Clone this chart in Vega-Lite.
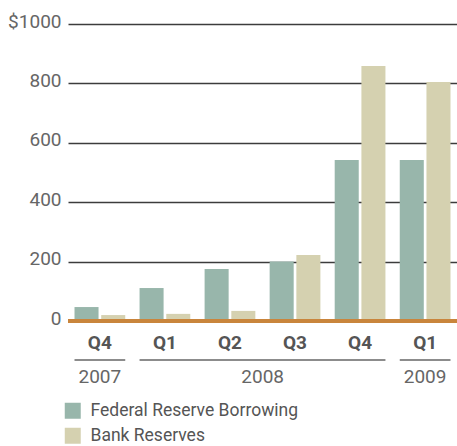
{
  "$schema": "https://vega.github.io/schema/vega-lite/v6.json",
  "width": 389,
  "height": 297,
  "autosize": {"type": "none"},
  "padding": {"left": 68, "top": 24, "right": 0, "bottom": 125},
  "background": "white",
  "config": {"view": {"stroke": null}, "font": "Roboto"},
  "datasets": {
    "bars": [
      {"quarter": "2007 Q4", "series": "Federal Reserve Borrowing", "value": 47},
      {"quarter": "2007 Q4", "series": "Bank Reserves", "value": 20},
      {"quarter": "2008 Q1", "series": "Federal Reserve Borrowing", "value": 111},
      {"quarter": "2008 Q1", "series": "Bank Reserves", "value": 24},
      {"quarter": "2008 Q2", "series": "Federal Reserve Borrowing", "value": 175},
      {"quarter": "2008 Q2", "series": "Bank Reserves", "value": 34},
      {"quarter": "2008 Q3", "series": "Federal Reserve Borrowing", "value": 200},
      {"quarter": "2008 Q3", "series": "Bank Reserves", "value": 222},
      {"quarter": "2008 Q4", "series": "Federal Reserve Borrowing", "value": 542},
      {"quarter": "2008 Q4", "series": "Bank Reserves", "value": 859},
      {"quarter": "2009 Q1", "series": "Federal Reserve Borrowing", "value": 542},
      {"quarter": "2009 Q1", "series": "Bank Reserves", "value": 805}
    ],
    "years": [
      {"year": "2007", "start": "2007 Q4", "end": "2007 Q4", "mid": "2007 Q4"},
      {"year": "2008", "start": "2008 Q1", "end": "2008 Q4", "mid": "2008 Q3"},
      {"year": "2009", "start": "2009 Q1", "end": "2009 Q1", "mid": "2009 Q1"}
    ]
  },
  "layer": [
    {
      "data": {"name": "bars"},
      "mark": {"type": "bar"},
      "encoding": {
        "x": {
          "field": "quarter", "type": "nominal", "sort": null,
          "scale": {"domain": ["2007 Q4", "2008 Q1", "2008 Q2", "2008 Q3", "2008 Q4", "2009 Q1"], "paddingInner": 0.22, "paddingOuter": 0.1},
          "axis": {
            "title": null, "domain": false, "ticks": false,
            "labelExpr": "split(datum.label, ' ')[1]",
            "labelFont": "Roboto", "labelFontSize": 19, "labelFontWeight": "bold", "labelColor": "#555555",
            "labelAngle": 0, "labelBaseline": "alphabetic", "labelPadding": 27
          }
        },
        "xOffset": {
          "field": "series", "type": "nominal",
          "scale": {"domain": ["Federal Reserve Borrowing", "Bank Reserves"], "paddingInner": 0.1, "paddingOuter": 0}
        },
        "y": {
          "field": "value", "type": "quantitative",
          "scale": {"domain": [0, 1000], "nice": false},
          "axis": {
            "title": null, "domain": false, "ticks": false,
            "values": [0, 200, 400, 600, 800, 1000],
            "format": "d",
            "labelExpr": "datum.value == 1000 ? '$1000' : datum.label",
            "labelFont": "Roboto", "labelFontSize": 19, "labelColor": "#666666",
            "labelPadding": 7, "labelBaseline": "alphabetic", "labelOffset": 3,
            "grid": true, "gridColor": "#3c3c3c", "gridWidth": 1.5
          }
        },
        "color": {
          "field": "series", "type": "nominal",
          "scale": {"domain": ["Federal Reserve Borrowing", "Bank Reserves"], "range": ["#98b6ab", "#d5d1b0"]},
          "legend": {
            "title": null, "orient": "none", "legendX": -4, "legendY": 378, "padding": 0,
            "symbolType": "square", "symbolSize": 256, "symbolStrokeWidth": 0, "symbolOpacity": 1,
            "labelFont": "Roboto", "labelFontSize": 17.5, "labelColor": "#555555", "labelOffset": 9, "labelLimit": 400,
            "rowPadding": 6, "direction": "vertical"
          }
        }
      }
    },
    {
      "data": {"values": [{"zero": 0}]},
      "mark": {"type": "rule", "color": "#c9853c", "strokeWidth": 4},
      "encoding": {"y": {"field": "zero", "type": "quantitative"}}
    },
    {
      "data": {"name": "years"},
      "mark": {"type": "rule", "color": "#8c8c8c", "strokeWidth": 2},
      "encoding": {
        "x": {"field": "start", "type": "nominal", "bandPosition": 0,
              "scale": {"domain": ["2007 Q4", "2008 Q1", "2008 Q2", "2008 Q3", "2008 Q4", "2009 Q1"]}},
        "x2": {"field": "end", "bandPosition": 1},
        "y": {"value": 336}
      }
    },
    {
      "data": {"name": "years"},
      "transform": [{"filter": "datum.year != '2008'"}],
      "mark": {"type": "text", "font": "Roboto", "fontSize": 19, "color": "#666666", "align": "center", "baseline": "alphabetic"},
      "encoding": {
        "x": {"field": "mid", "type": "nominal", "bandPosition": 0.5,
              "scale": {"domain": ["2007 Q4", "2008 Q1", "2008 Q2", "2008 Q3", "2008 Q4", "2009 Q1"]}},
        "y": {"value": 359},
        "text": {"field": "year"}
      }
    },
    {
      "data": {"name": "years"},
      "transform": [{"filter": "datum.year == '2008'"}],
      "mark": {"type": "text", "font": "Roboto", "fontSize": 19, "color": "#666666", "align": "center", "baseline": "alphabetic", "dx": -7},
      "encoding": {
        "x": {"field": "mid", "type": "nominal", "bandPosition": 0,
              "scale": {"domain": ["2007 Q4", "2008 Q1", "2008 Q2", "2008 Q3", "2008 Q4", "2009 Q1"]}},
        "y": {"value": 359},
        "text": {"field": "year"}
      }
    }
  ]
}
